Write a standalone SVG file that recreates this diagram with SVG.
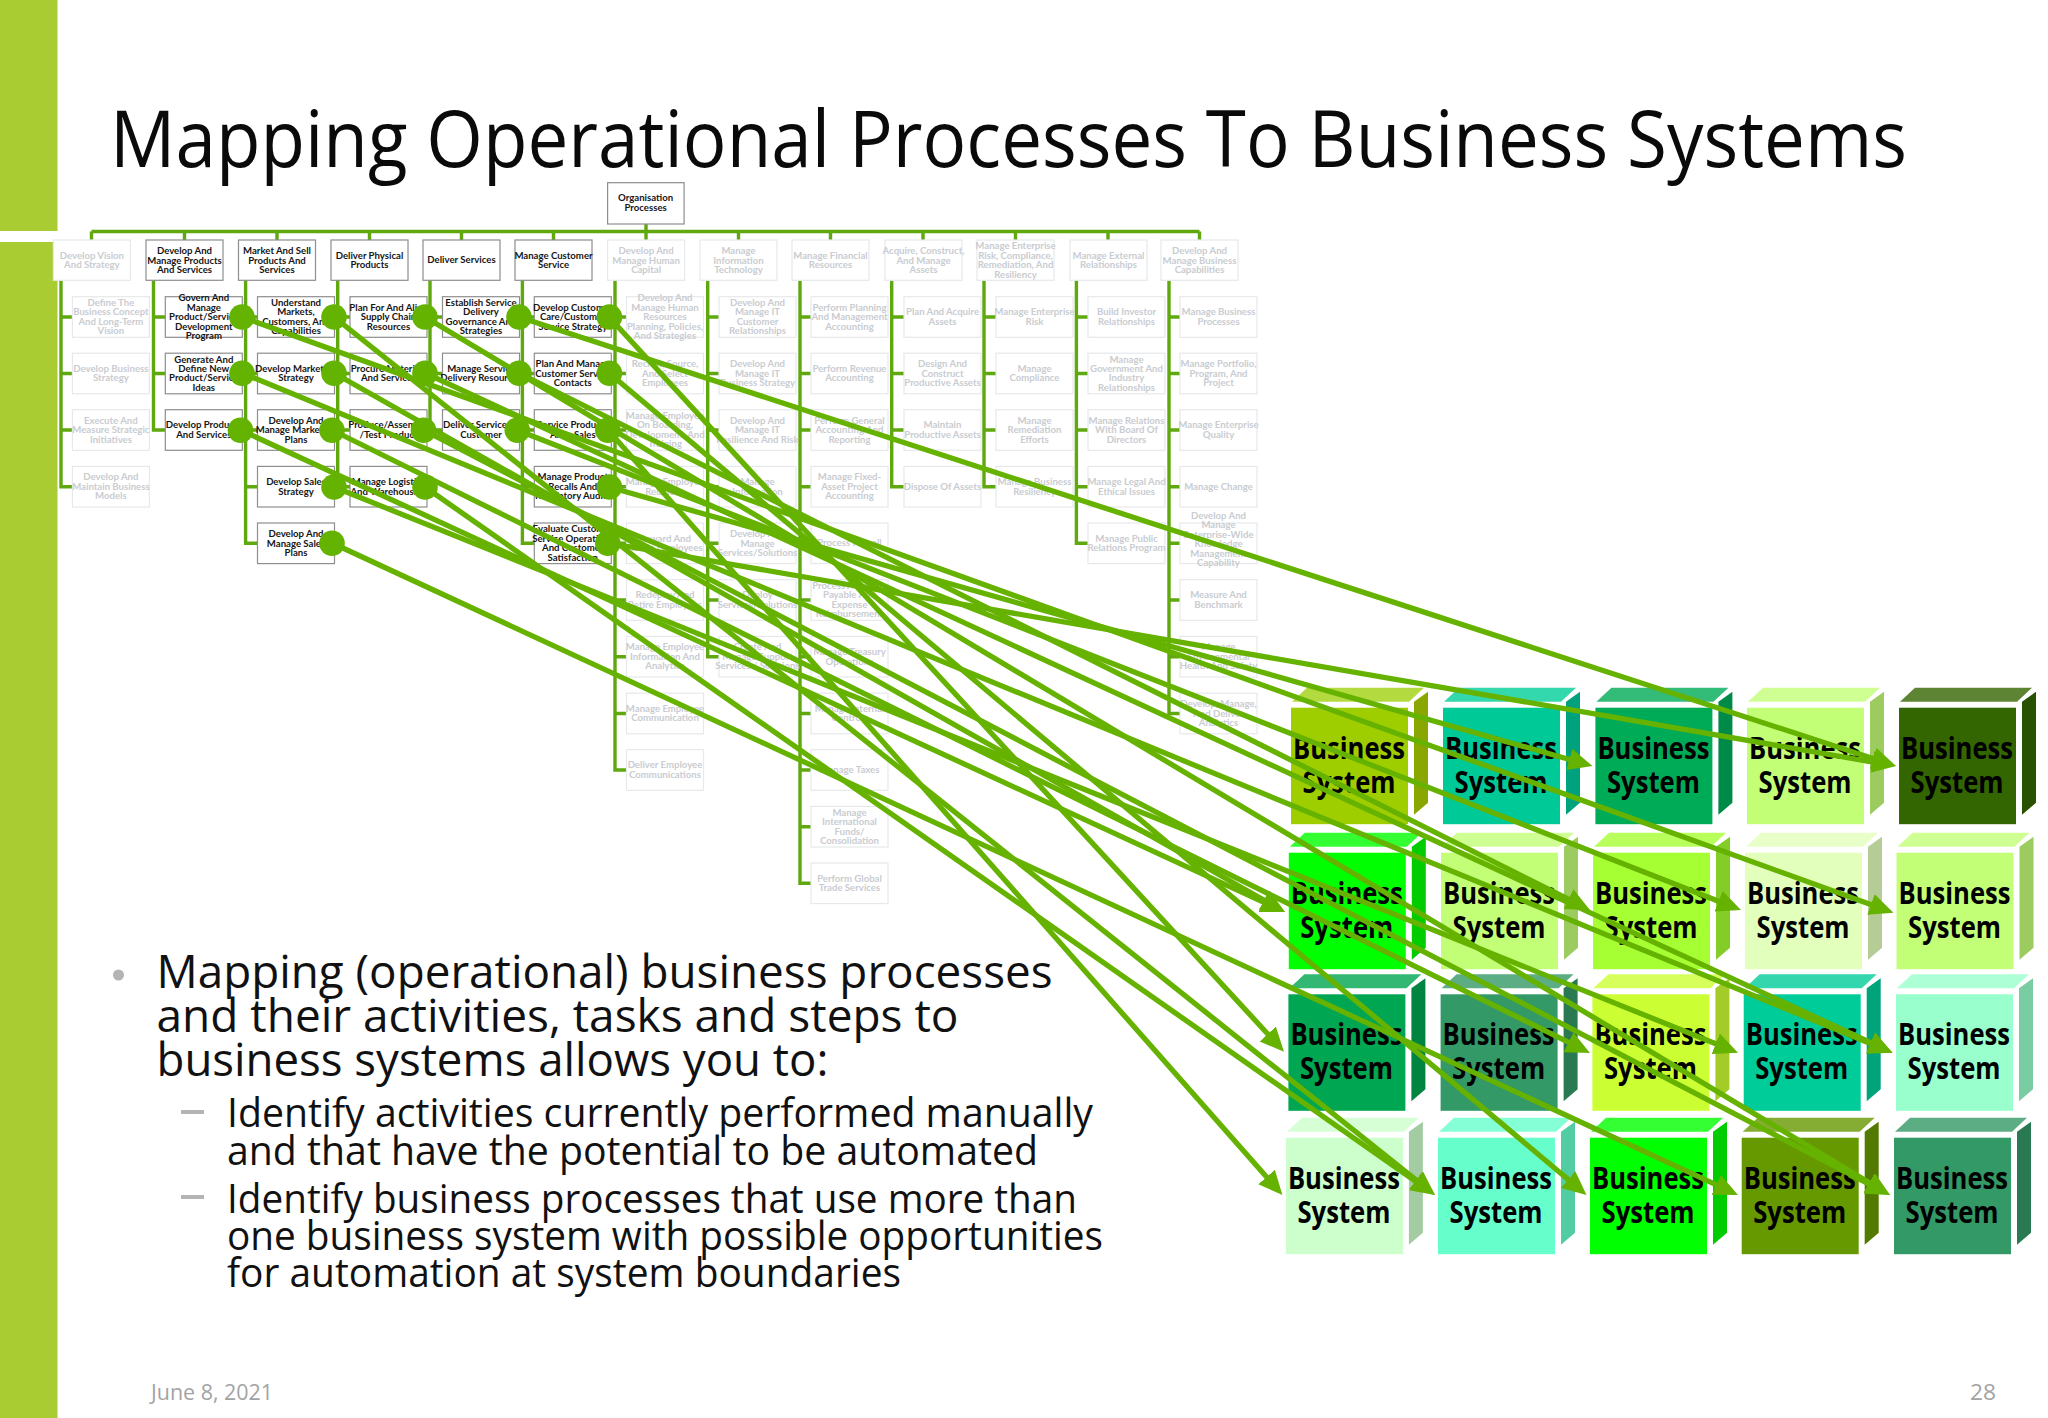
<svg xmlns="http://www.w3.org/2000/svg" width="2048" height="1418" viewBox="0 0 2048 1418">
<style>
.org{fill:none;stroke:#5FA80E;stroke-width:3.4}
.map{fill:none;stroke:#66B200;stroke-width:5.3;marker-end:url(#ah)}
.dot{fill:#63B300}
.a rect,.a use{fill:#fff;stroke:#8E8E8E;stroke-width:1.2}
.f rect,.f use{fill:#fff;stroke:#E6E8EB;stroke-width:1.2}
text{font-family:"Lato","Liberation Sans",sans-serif}
.a text,.f text{font-size:9.6px;font-weight:700;text-anchor:middle}
.a text{fill:#161616}
.f text{fill:#C9CCD1}
.bs text{font-family:"Open Sans","Liberation Sans",sans-serif;font-size:30px;font-weight:700;text-anchor:middle;fill:#000}
.body{font-family:"Open Sans","Liberation Sans",sans-serif;fill:#111}
</style>
<defs>
<marker id="ah" markerUnits="userSpaceOnUse" markerWidth="26" markerHeight="24" refX="2" refY="11" orient="auto"><path d="M0,0L24,11L0,22Z" fill="#66B200"/></marker>
<rect id="cb" width="77" height="40.6"/>
<rect id="lb" width="77" height="40.3"/>
<polygon id="pt" points="1,-6 16,-20 133,-20 118,-6"/>
<polygon id="ps" points="123,-6 137,-16 137,95 123,107"/>
<rect id="pf" width="117" height="116.5"/>
</defs>
<rect width="2048" height="1418" fill="#fff"/>
<g id="slide-bar" fill="#A9CC33"><rect width="57.5" height="231"/><rect y="242" width="57.5" height="1176"/></g>
<text id="title" x="110" y="167" font-size="78" textLength="1797" lengthAdjust="spacingAndGlyphs" style="font-family:'Open Sans','Liberation Sans',sans-serif" fill="#0a0a0a">Mapping Operational Processes To Business Systems</text>
<g id="org-connectors" class="org">
<path d="M646,224V240M91.5,231.5H1199.5M91.5,231.5V240M184.5,231.5V240M277,231.5V240M369.5,231.5V240M461.5,231.5V240M553.5,231.5V240M738.5,231.5V240M830.5,231.5V240M923,231.5V240M1015.5,231.5V240M1108,231.5V240M1199.5,231.5V240"/>
<path d="M61,280V486.7H72M61,317H72M61,373.5H72M61,430H72"/>
<path d="M153.5,280V430H165M153.5,317H165M153.5,373.5H165"/>
<path d="M245.6,280V543.3H257M245.6,317H257M245.6,373.5H257M245.6,430H257M245.6,486.7H257"/>
<path d="M337.7,280V486.7H350M337.7,317H350M337.7,373.5H350M337.7,430H350"/>
<path d="M430,280V430H442M430,317H442M430,373.5H442"/>
<path d="M522.4,280V543.3H534M522.4,317H534M522.4,373.5H534M522.4,430H534M522.4,486.7H534"/>
<path d="M615,280V770H626M615,317H626M615,373.5H626M615,430H626M615,486.7H626M615,543.3H626M615,600H626M615,656.7H626M615,713.5H626"/>
<path d="M707.7,280V656.7H719M707.7,317H719M707.7,373.5H719M707.7,430H719M707.7,486.7H719M707.7,543.3H719M707.7,600H719"/>
<path d="M800,280V883.3H811M800,317H811M800,373.5H811M800,430H811M800,486.7H811M800,543.3H811M800,600H811M800,656.7H811M800,713.5H811M800,770H811M800,826.7H811"/>
<path d="M891.7,280V486.7H904M891.7,317H904M891.7,373.5H904M891.7,430H904"/>
<path d="M984,280V486.7H996M984,317H996M984,373.5H996M984,430H996"/>
<path d="M1076.4,280V543.3H1088M1076.4,317H1088M1076.4,373.5H1088M1076.4,430H1088M1076.4,486.7H1088"/>
<path d="M1169,280V713.5H1180M1169,317H1180M1169,373.5H1180M1169,430H1180M1169,486.7H1180M1169,543.3H1180M1169,600H1180M1169,656.7H1180"/>
</g>
<g id="org-root" class="a" transform="translate(607.6,182.7)"><rect width="76.5" height="41.3"/><text x="38" y="18.8">Organisation<tspan x="38" dy="9.4">Processes</tspan></text></g>
<g id="l1-0" class="f" transform="translate(53.4,240)"><use href="#lb"/><text x="38.5" y="18.8">Develop Vision<tspan x="38.5" dy="9.4">And Strategy</tspan></text></g>
<g id="l1-1" class="a" transform="translate(146,240)"><use href="#lb"/><text x="38.5" y="14.1">Develop And<tspan x="38.5" dy="9.4">Manage Products</tspan><tspan x="38.5" dy="9.4">And Services</tspan></text></g>
<g id="l1-2" class="a" transform="translate(238.5,240)"><use href="#lb"/><text x="38.5" y="14.1">Market And Sell<tspan x="38.5" dy="9.4">Products And</tspan><tspan x="38.5" dy="9.4">Services</tspan></text></g>
<g id="l1-3" class="a" transform="translate(331,240)"><use href="#lb"/><text x="38.5" y="18.8">Deliver Physical<tspan x="38.5" dy="9.4">Products</tspan></text></g>
<g id="l1-4" class="a" transform="translate(423,240)"><use href="#lb"/><text x="38.5" y="23.3">Deliver Services</text></g>
<g id="l1-5" class="a" transform="translate(515,240)"><use href="#lb"/><text x="38.5" y="18.8">Manage Customer<tspan x="38.5" dy="9.4">Service</tspan></text></g>
<g id="l1-6" class="f" transform="translate(607.6,240)"><use href="#lb"/><text x="38.5" y="14.1">Develop And<tspan x="38.5" dy="9.4">Manage Human</tspan><tspan x="38.5" dy="9.4">Capital</tspan></text></g>
<g id="l1-7" class="f" transform="translate(700,240)"><use href="#lb"/><text x="38.5" y="14.1">Manage<tspan x="38.5" dy="9.4">Information</tspan><tspan x="38.5" dy="9.4">Technology</tspan></text></g>
<g id="l1-8" class="f" transform="translate(792,240)"><use href="#lb"/><text x="38.5" y="18.8">Manage Financial<tspan x="38.5" dy="9.4">Resources</tspan></text></g>
<g id="l1-9" class="f" transform="translate(885,240)"><use href="#lb"/><text x="38.5" y="14.1">Acquire, Construct,<tspan x="38.5" dy="9.4">And Manage</tspan><tspan x="38.5" dy="9.4">Assets</tspan></text></g>
<g id="l1-10" class="f" transform="translate(977,240)"><use href="#lb"/><text x="38.5" y="9.4">Manage Enterprise<tspan x="38.5" dy="9.4">Risk, Compliance,</tspan><tspan x="38.5" dy="9.4">Remediation, And</tspan><tspan x="38.5" dy="9.4">Resiliency</tspan></text></g>
<g id="l1-11" class="f" transform="translate(1070,240)"><use href="#lb"/><text x="38.5" y="18.8">Manage External<tspan x="38.5" dy="9.4">Relationships</tspan></text></g>
<g id="l1-12" class="f" transform="translate(1161,240)"><use href="#lb"/><text x="38.5" y="14.1">Develop And<tspan x="38.5" dy="9.4">Manage Business</tspan><tspan x="38.5" dy="9.4">Capabilities</tspan></text></g>

<g id="c0-1" class="f" transform="translate(72.4,296.7)"><use href="#cb"/><text x="38.5" y="9.4">Define The<tspan x="38.5" dy="9.4">Business Concept</tspan><tspan x="38.5" dy="9.4">And Long-Term</tspan><tspan x="38.5" dy="9.4">Vision</tspan></text></g>
<g id="c0-2" class="f" transform="translate(72.4,353.2)"><use href="#cb"/><text x="38.5" y="18.8">Develop Business<tspan x="38.5" dy="9.4">Strategy</tspan></text></g>
<g id="c0-3" class="f" transform="translate(72.4,409.7)"><use href="#cb"/><text x="38.5" y="14.1">Execute And<tspan x="38.5" dy="9.4">Measure Strategic</tspan><tspan x="38.5" dy="9.4">Initiatives</tspan></text></g>
<g id="c0-4" class="f" transform="translate(72.4,466.4)"><use href="#cb"/><text x="38.5" y="14.1">Develop And<tspan x="38.5" dy="9.4">Maintain Business</tspan><tspan x="38.5" dy="9.4">Models</tspan></text></g>

<g id="c1-1" class="a" transform="translate(165.3,296.7)"><use href="#cb"/><text x="38.5" y="4.7">Govern And<tspan x="38.5" dy="9.4">Manage</tspan><tspan x="38.5" dy="9.4">Product/Service</tspan><tspan x="38.5" dy="9.4">Development</tspan><tspan x="38.5" dy="9.4">Program</tspan></text></g>
<g id="c1-2" class="a" transform="translate(165.3,353.2)"><use href="#cb"/><text x="38.5" y="9.4">Generate And<tspan x="38.5" dy="9.4">Define New</tspan><tspan x="38.5" dy="9.4">Product/Service</tspan><tspan x="38.5" dy="9.4">Ideas</tspan></text></g>
<g id="c1-3" class="a" transform="translate(165.3,409.7)"><use href="#cb"/><text x="38.5" y="18.8">Develop Products<tspan x="38.5" dy="9.4">And Services</tspan></text></g>

<g id="c2-1" class="a" transform="translate(257.5,296.7)"><use href="#cb"/><text x="38.5" y="9.4">Understand<tspan x="38.5" dy="9.4">Markets,</tspan><tspan x="38.5" dy="9.4">Customers, And</tspan><tspan x="38.5" dy="9.4">Capabilities</tspan></text></g>
<g id="c2-2" class="a" transform="translate(257.5,353.2)"><use href="#cb"/><text x="38.5" y="18.8">Develop Marketing<tspan x="38.5" dy="9.4">Strategy</tspan></text></g>
<g id="c2-3" class="a" transform="translate(257.5,409.7)"><use href="#cb"/><text x="38.5" y="14.1">Develop And<tspan x="38.5" dy="9.4">Manage Marketing</tspan><tspan x="38.5" dy="9.4">Plans</tspan></text></g>
<g id="c2-4" class="a" transform="translate(257.5,466.4)"><use href="#cb"/><text x="38.5" y="18.8">Develop Sales<tspan x="38.5" dy="9.4">Strategy</tspan></text></g>
<g id="c2-5" class="a" transform="translate(257.5,523)"><use href="#cb"/><text x="38.5" y="14.1">Develop And<tspan x="38.5" dy="9.4">Manage Sales</tspan><tspan x="38.5" dy="9.4">Plans</tspan></text></g>

<g id="c3-1" class="a" transform="translate(350,296.7)"><use href="#cb"/><text x="38.5" y="14.1">Plan For And Align<tspan x="38.5" dy="9.4">Supply Chain</tspan><tspan x="38.5" dy="9.4">Resources</tspan></text></g>
<g id="c3-2" class="a" transform="translate(350,353.2)"><use href="#cb"/><text x="38.5" y="18.8">Procure Materials<tspan x="38.5" dy="9.4">And Services</tspan></text></g>
<g id="c3-3" class="a" transform="translate(350,409.7)"><use href="#cb"/><text x="38.5" y="18.8">Produce/Assemble<tspan x="38.5" dy="9.4">/Test Product</tspan></text></g>
<g id="c3-4" class="a" transform="translate(350,466.4)"><use href="#cb"/><text x="38.5" y="18.8">Manage Logistics<tspan x="38.5" dy="9.4">And Warehousing</tspan></text></g>

<g id="c4-1" class="a" transform="translate(442.5,296.7)"><use href="#cb"/><text x="38.5" y="9.4">Establish Service<tspan x="38.5" dy="9.4">Delivery</tspan><tspan x="38.5" dy="9.4">Governance And</tspan><tspan x="38.5" dy="9.4">Strategies</tspan></text></g>
<g id="c4-2" class="a" transform="translate(442.5,353.2)"><use href="#cb"/><text x="38.5" y="18.8">Manage Service<tspan x="38.5" dy="9.4">Delivery Resources</tspan></text></g>
<g id="c4-3" class="a" transform="translate(442.5,409.7)"><use href="#cb"/><text x="38.5" y="18.8">Deliver Service To<tspan x="38.5" dy="9.4">Customer</tspan></text></g>

<g id="c5-1" class="a" transform="translate(534.3,296.7)"><use href="#cb"/><text x="38.5" y="14.1">Develop Customer<tspan x="38.5" dy="9.4">Care/Customer</tspan><tspan x="38.5" dy="9.4">Service Strategy</tspan></text></g>
<g id="c5-2" class="a" transform="translate(534.3,353.2)"><use href="#cb"/><text x="38.5" y="14.1">Plan And Manage<tspan x="38.5" dy="9.4">Customer Service</tspan><tspan x="38.5" dy="9.4">Contacts</tspan></text></g>
<g id="c5-3" class="a" transform="translate(534.3,409.7)"><use href="#cb"/><text x="38.5" y="18.8">Service Products<tspan x="38.5" dy="9.4">After Sales</tspan></text></g>
<g id="c5-4" class="a" transform="translate(534.3,466.4)"><use href="#cb"/><text x="38.5" y="14.1">Manage Product<tspan x="38.5" dy="9.4">Recalls And</tspan><tspan x="38.5" dy="9.4">Regulatory Audits</tspan></text></g>
<g id="c5-5" class="a" transform="translate(534.3,523)"><use href="#cb"/><text x="38.5" y="9.4">Evaluate Customer<tspan x="38.5" dy="9.4">Service Operations</tspan><tspan x="38.5" dy="9.4">And Customer</tspan><tspan x="38.5" dy="9.4">Satisfaction</tspan></text></g>

<g id="c6-1" class="f" transform="translate(626.5,296.7)"><use href="#cb"/><text x="38.5" y="4.7">Develop And<tspan x="38.5" dy="9.4">Manage Human</tspan><tspan x="38.5" dy="9.4">Resources</tspan><tspan x="38.5" dy="9.4">Planning, Policies,</tspan><tspan x="38.5" dy="9.4">And Strategies</tspan></text></g>
<g id="c6-2" class="f" transform="translate(626.5,353.2)"><use href="#cb"/><text x="38.5" y="14.1">Recruit, Source,<tspan x="38.5" dy="9.4">And Select</tspan><tspan x="38.5" dy="9.4">Employees</tspan></text></g>
<g id="c6-3" class="f" transform="translate(626.5,409.7)"><use href="#cb"/><text x="38.5" y="9.4">Manage Employee<tspan x="38.5" dy="9.4">On Boarding,</tspan><tspan x="38.5" dy="9.4">Development, And</tspan><tspan x="38.5" dy="9.4">Training</tspan></text></g>
<g id="c6-4" class="f" transform="translate(626.5,466.4)"><use href="#cb"/><text x="38.5" y="18.8">Manage Employee<tspan x="38.5" dy="9.4">Relations</tspan></text></g>
<g id="c6-5" class="f" transform="translate(626.5,523)"><use href="#cb"/><text x="38.5" y="18.8">Reward And<tspan x="38.5" dy="9.4">Retain Employees</tspan></text></g>
<g id="c6-6" class="f" transform="translate(626.5,579.7)"><use href="#cb"/><text x="38.5" y="18.8">Redeploy And<tspan x="38.5" dy="9.4">Retire Employees</tspan></text></g>
<g id="c6-7" class="f" transform="translate(626.5,636.4)"><use href="#cb"/><text x="38.5" y="14.1">Manage Employee<tspan x="38.5" dy="9.4">Information And</tspan><tspan x="38.5" dy="9.4">Analytics</tspan></text></g>
<g id="c6-8" class="f" transform="translate(626.5,693.2)"><use href="#cb"/><text x="38.5" y="18.8">Manage Employee<tspan x="38.5" dy="9.4">Communication</tspan></text></g>
<g id="c6-9" class="f" transform="translate(626.5,749.7)"><use href="#cb"/><text x="38.5" y="18.8">Deliver Employee<tspan x="38.5" dy="9.4">Communications</tspan></text></g>

<g id="c7-1" class="f" transform="translate(719,296.7)"><use href="#cb"/><text x="38.5" y="9.4">Develop And<tspan x="38.5" dy="9.4">Manage IT</tspan><tspan x="38.5" dy="9.4">Customer</tspan><tspan x="38.5" dy="9.4">Relationships</tspan></text></g>
<g id="c7-2" class="f" transform="translate(719,353.2)"><use href="#cb"/><text x="38.5" y="14.1">Develop And<tspan x="38.5" dy="9.4">Manage IT</tspan><tspan x="38.5" dy="9.4">Business Strategy</tspan></text></g>
<g id="c7-3" class="f" transform="translate(719,409.7)"><use href="#cb"/><text x="38.5" y="14.1">Develop And<tspan x="38.5" dy="9.4">Manage IT</tspan><tspan x="38.5" dy="9.4">Resilience And Risk</tspan></text></g>
<g id="c7-4" class="f" transform="translate(719,466.4)"><use href="#cb"/><text x="38.5" y="18.8">Manage<tspan x="38.5" dy="9.4">Information</tspan></text></g>
<g id="c7-5" class="f" transform="translate(719,523)"><use href="#cb"/><text x="38.5" y="14.1">Develop And<tspan x="38.5" dy="9.4">Manage</tspan><tspan x="38.5" dy="9.4">Services/Solutions</tspan></text></g>
<g id="c7-6" class="f" transform="translate(719,579.7)"><use href="#cb"/><text x="38.5" y="18.8">Deploy<tspan x="38.5" dy="9.4">Services/Solutions</tspan></text></g>
<g id="c7-7" class="f" transform="translate(719,636.4)"><use href="#cb"/><text x="38.5" y="14.1">Create And<tspan x="38.5" dy="9.4">Manage Support</tspan><tspan x="38.5" dy="9.4">Services / Solutions</tspan></text></g>

<g id="c8-1" class="f" transform="translate(811,296.7)"><use href="#cb"/><text x="38.5" y="14.1">Perform Planning<tspan x="38.5" dy="9.4">And Management</tspan><tspan x="38.5" dy="9.4">Accounting</tspan></text></g>
<g id="c8-2" class="f" transform="translate(811,353.2)"><use href="#cb"/><text x="38.5" y="18.8">Perform Revenue<tspan x="38.5" dy="9.4">Accounting</tspan></text></g>
<g id="c8-3" class="f" transform="translate(811,409.7)"><use href="#cb"/><text x="38.5" y="14.1">Perform General<tspan x="38.5" dy="9.4">Accounting And</tspan><tspan x="38.5" dy="9.4">Reporting</tspan></text></g>
<g id="c8-4" class="f" transform="translate(811,466.4)"><use href="#cb"/><text x="38.5" y="14.1">Manage Fixed-<tspan x="38.5" dy="9.4">Asset Project</tspan><tspan x="38.5" dy="9.4">Accounting</tspan></text></g>
<g id="c8-5" class="f" transform="translate(811,523)"><use href="#cb"/><text x="38.5" y="23.3">Process Payroll</text></g>
<g id="c8-6" class="f" transform="translate(811,579.7)"><use href="#cb"/><text x="38.5" y="9.4">Process Accounts<tspan x="38.5" dy="9.4">Payable And</tspan><tspan x="38.5" dy="9.4">Expense</tspan><tspan x="38.5" dy="9.4">Reimbursement</tspan></text></g>
<g id="c8-7" class="f" transform="translate(811,636.4)"><use href="#cb"/><text x="38.5" y="18.8">Manage Treasury<tspan x="38.5" dy="9.4">Operations</tspan></text></g>
<g id="c8-8" class="f" transform="translate(811,693.2)"><use href="#cb"/><text x="38.5" y="18.8">Manage Internal<tspan x="38.5" dy="9.4">Controls</tspan></text></g>
<g id="c8-9" class="f" transform="translate(811,749.7)"><use href="#cb"/><text x="38.5" y="23.3">Manage Taxes</text></g>
<g id="c8-10" class="f" transform="translate(811,806.4)"><use href="#cb"/><text x="38.5" y="9.4">Manage<tspan x="38.5" dy="9.4">International</tspan><tspan x="38.5" dy="9.4">Funds/</tspan><tspan x="38.5" dy="9.4">Consolidation</tspan></text></g>
<g id="c8-11" class="f" transform="translate(811,863)"><use href="#cb"/><text x="38.5" y="18.8">Perform Global<tspan x="38.5" dy="9.4">Trade Services</tspan></text></g>

<g id="c9-1" class="f" transform="translate(904,296.7)"><use href="#cb"/><text x="38.5" y="18.8">Plan And Acquire<tspan x="38.5" dy="9.4">Assets</tspan></text></g>
<g id="c9-2" class="f" transform="translate(904,353.2)"><use href="#cb"/><text x="38.5" y="14.1">Design And<tspan x="38.5" dy="9.4">Construct</tspan><tspan x="38.5" dy="9.4">Productive Assets</tspan></text></g>
<g id="c9-3" class="f" transform="translate(904,409.7)"><use href="#cb"/><text x="38.5" y="18.8">Maintain<tspan x="38.5" dy="9.4">Productive Assets</tspan></text></g>
<g id="c9-4" class="f" transform="translate(904,466.4)"><use href="#cb"/><text x="38.5" y="23.3">Dispose Of Assets</text></g>

<g id="c10-1" class="f" transform="translate(996,296.7)"><use href="#cb"/><text x="38.5" y="18.8">Manage Enterprise<tspan x="38.5" dy="9.4">Risk</tspan></text></g>
<g id="c10-2" class="f" transform="translate(996,353.2)"><use href="#cb"/><text x="38.5" y="18.8">Manage<tspan x="38.5" dy="9.4">Compliance</tspan></text></g>
<g id="c10-3" class="f" transform="translate(996,409.7)"><use href="#cb"/><text x="38.5" y="14.1">Manage<tspan x="38.5" dy="9.4">Remediation</tspan><tspan x="38.5" dy="9.4">Efforts</tspan></text></g>
<g id="c10-4" class="f" transform="translate(996,466.4)"><use href="#cb"/><text x="38.5" y="18.8">Manage Business<tspan x="38.5" dy="9.4">Resiliency</tspan></text></g>

<g id="c11-1" class="f" transform="translate(1088,296.7)"><use href="#cb"/><text x="38.5" y="18.8">Build Investor<tspan x="38.5" dy="9.4">Relationships</tspan></text></g>
<g id="c11-2" class="f" transform="translate(1088,353.2)"><use href="#cb"/><text x="38.5" y="9.4">Manage<tspan x="38.5" dy="9.4">Government And</tspan><tspan x="38.5" dy="9.4">Industry</tspan><tspan x="38.5" dy="9.4">Relationships</tspan></text></g>
<g id="c11-3" class="f" transform="translate(1088,409.7)"><use href="#cb"/><text x="38.5" y="14.1">Manage Relations<tspan x="38.5" dy="9.4">With Board Of</tspan><tspan x="38.5" dy="9.4">Directors</tspan></text></g>
<g id="c11-4" class="f" transform="translate(1088,466.4)"><use href="#cb"/><text x="38.5" y="18.8">Manage Legal And<tspan x="38.5" dy="9.4">Ethical Issues</tspan></text></g>
<g id="c11-5" class="f" transform="translate(1088,523)"><use href="#cb"/><text x="38.5" y="18.8">Manage Public<tspan x="38.5" dy="9.4">Relations Program</tspan></text></g>

<g id="c12-1" class="f" transform="translate(1180,296.7)"><use href="#cb"/><text x="38.5" y="18.8">Manage Business<tspan x="38.5" dy="9.4">Processes</tspan></text></g>
<g id="c12-2" class="f" transform="translate(1180,353.2)"><use href="#cb"/><text x="38.5" y="14.1">Manage Portfolio,<tspan x="38.5" dy="9.4">Program, And</tspan><tspan x="38.5" dy="9.4">Project</tspan></text></g>
<g id="c12-3" class="f" transform="translate(1180,409.7)"><use href="#cb"/><text x="38.5" y="18.8">Manage Enterprise<tspan x="38.5" dy="9.4">Quality</tspan></text></g>
<g id="c12-4" class="f" transform="translate(1180,466.4)"><use href="#cb"/><text x="38.5" y="23.3">Manage Change</text></g>
<g id="c12-5" class="f" transform="translate(1180,523)"><use href="#cb"/><text x="38.5" y="-4">Develop And<tspan x="38.5" dy="9.4">Manage</tspan><tspan x="38.5" dy="9.4">Enterprise-Wide</tspan><tspan x="38.5" dy="9.4">Knowledge</tspan><tspan x="38.5" dy="9.4">Management</tspan><tspan x="38.5" dy="9.4">Capability</tspan></text></g>
<g id="c12-6" class="f" transform="translate(1180,579.7)"><use href="#cb"/><text x="38.5" y="18.8">Measure And<tspan x="38.5" dy="9.4">Benchmark</tspan></text></g>
<g id="c12-7" class="f" transform="translate(1180,636.4)"><use href="#cb"/><text x="38.5" y="14.1">Manage<tspan x="38.5" dy="9.4">Environmental</tspan><tspan x="38.5" dy="9.4">Health And Safety</tspan></text></g>
<g id="c12-8" class="f" transform="translate(1180,693.2)"><use href="#cb"/><text x="38.5" y="14.1">Develop, Manage,<tspan x="38.5" dy="9.4">And Deliver</tspan><tspan x="38.5" dy="9.4">Analytics</tspan></text></g>

<g id="bs-1-1" class="bs" transform="translate(1291,707.7)"><use href="#pt" fill="#B3DA3F"/><use href="#ps" fill="#8AA600"/><use href="#pf" fill="#9FCE00"/><text x="58" y="51" textLength="112" lengthAdjust="spacingAndGlyphs">Business</text><text x="58" y="85" textLength="93" lengthAdjust="spacingAndGlyphs">System</text></g>
<g id="bs-1-2" class="bs" transform="translate(1443,707.7)"><use href="#pt" fill="#33D8AC"/><use href="#ps" fill="#00A27D"/><use href="#pf" fill="#00C998"/><text x="58" y="51" textLength="112" lengthAdjust="spacingAndGlyphs">Business</text><text x="58" y="85" textLength="93" lengthAdjust="spacingAndGlyphs">System</text></g>
<g id="bs-1-3" class="bs" transform="translate(1595.4,707.7)"><use href="#pt" fill="#33BB78"/><use href="#ps" fill="#008A47"/><use href="#pf" fill="#00AB57"/><text x="58" y="51" textLength="112" lengthAdjust="spacingAndGlyphs">Business</text><text x="58" y="85" textLength="93" lengthAdjust="spacingAndGlyphs">System</text></g>
<g id="bs-1-4" class="bs" transform="translate(1747,707.7)"><use href="#pt" fill="#CFFF92"/><use href="#ps" fill="#9CCC60"/><use href="#pf" fill="#C2FF77"/><text x="58" y="51" textLength="112" lengthAdjust="spacingAndGlyphs">Business</text><text x="58" y="85" textLength="93" lengthAdjust="spacingAndGlyphs">System</text></g>
<g id="bs-1-5" class="bs" transform="translate(1899,707.7)"><use href="#pt" fill="#5C8433"/><use href="#ps" fill="#295200"/><use href="#pf" fill="#336600"/><text x="58" y="51" textLength="112" lengthAdjust="spacingAndGlyphs">Business</text><text x="58" y="85" textLength="93" lengthAdjust="spacingAndGlyphs">System</text></g>

<g id="bs-2-1" class="bs" transform="translate(1288.8,852.7)"><use href="#pt" fill="#33FF33"/><use href="#ps" fill="#00CC00"/><use href="#pf" fill="#00FF00"/><text x="58" y="51" textLength="112" lengthAdjust="spacingAndGlyphs">Business</text><text x="58" y="85" textLength="93" lengthAdjust="spacingAndGlyphs">System</text></g>
<g id="bs-2-2" class="bs" transform="translate(1441,852.7)"><use href="#pt" fill="#CFFF92"/><use href="#ps" fill="#9CCC60"/><use href="#pf" fill="#C2FF77"/><text x="58" y="51" textLength="112" lengthAdjust="spacingAndGlyphs">Business</text><text x="58" y="85" textLength="93" lengthAdjust="spacingAndGlyphs">System</text></g>
<g id="bs-2-3" class="bs" transform="translate(1593,852.7)"><use href="#pt" fill="#B8FF5C"/><use href="#ps" fill="#84CC28"/><use href="#pf" fill="#A6FF33"/><text x="58" y="51" textLength="112" lengthAdjust="spacingAndGlyphs">Business</text><text x="58" y="85" textLength="93" lengthAdjust="spacingAndGlyphs">System</text></g>
<g id="bs-2-4" class="bs" transform="translate(1745,852.7)"><use href="#pt" fill="#E8FFC9"/><use href="#ps" fill="#B5CC96"/><use href="#pf" fill="#E2FFBC"/><text x="58" y="51" textLength="112" lengthAdjust="spacingAndGlyphs">Business</text><text x="58" y="85" textLength="93" lengthAdjust="spacingAndGlyphs">System</text></g>
<g id="bs-2-5" class="bs" transform="translate(1896.5,852.7)"><use href="#pt" fill="#CFFF92"/><use href="#ps" fill="#9CCC60"/><use href="#pf" fill="#C2FF77"/><text x="58" y="51" textLength="112" lengthAdjust="spacingAndGlyphs">Business</text><text x="58" y="85" textLength="93" lengthAdjust="spacingAndGlyphs">System</text></g>

<g id="bs-3-1" class="bs" transform="translate(1288.4,994.3)"><use href="#pt" fill="#33B874"/><use href="#ps" fill="#008540"/><use href="#pf" fill="#00A651"/><text x="58" y="51" textLength="112" lengthAdjust="spacingAndGlyphs">Business</text><text x="58" y="85" textLength="93" lengthAdjust="spacingAndGlyphs">System</text></g>
<g id="bs-3-2" class="bs" transform="translate(1440.6,994.3)"><use href="#pt" fill="#5CAD84"/><use href="#ps" fill="#297A52"/><use href="#pf" fill="#339966"/><text x="58" y="51" textLength="112" lengthAdjust="spacingAndGlyphs">Business</text><text x="58" y="85" textLength="93" lengthAdjust="spacingAndGlyphs">System</text></g>
<g id="bs-3-3" class="bs" transform="translate(1592.4,994.3)"><use href="#pt" fill="#D6FF5C"/><use href="#ps" fill="#A3CC28"/><use href="#pf" fill="#CCFF33"/><text x="58" y="51" textLength="112" lengthAdjust="spacingAndGlyphs">Business</text><text x="58" y="85" textLength="93" lengthAdjust="spacingAndGlyphs">System</text></g>
<g id="bs-3-4" class="bs" transform="translate(1743.7,994.3)"><use href="#pt" fill="#33D6AD"/><use href="#ps" fill="#00A37A"/><use href="#pf" fill="#00CC99"/><text x="58" y="51" textLength="112" lengthAdjust="spacingAndGlyphs">Business</text><text x="58" y="85" textLength="93" lengthAdjust="spacingAndGlyphs">System</text></g>
<g id="bs-3-5" class="bs" transform="translate(1896,994.3)"><use href="#pt" fill="#ADFFD6"/><use href="#ps" fill="#7ACCA3"/><use href="#pf" fill="#99FFCC"/><text x="58" y="51" textLength="112" lengthAdjust="spacingAndGlyphs">Business</text><text x="58" y="85" textLength="93" lengthAdjust="spacingAndGlyphs">System</text></g>

<g id="bs-4-1" class="bs" transform="translate(1285.9,1137.7)"><use href="#pt" fill="#D6FFD6"/><use href="#ps" fill="#A3CCA3"/><use href="#pf" fill="#CCFFCC"/><text x="58" y="51" textLength="112" lengthAdjust="spacingAndGlyphs">Business</text><text x="58" y="85" textLength="93" lengthAdjust="spacingAndGlyphs">System</text></g>
<g id="bs-4-2" class="bs" transform="translate(1438,1137.7)"><use href="#pt" fill="#85FFD6"/><use href="#ps" fill="#52CCA3"/><use href="#pf" fill="#66FFCC"/><text x="58" y="51" textLength="112" lengthAdjust="spacingAndGlyphs">Business</text><text x="58" y="85" textLength="93" lengthAdjust="spacingAndGlyphs">System</text></g>
<g id="bs-4-3" class="bs" transform="translate(1590,1137.7)"><use href="#pt" fill="#33FF33"/><use href="#ps" fill="#00CC00"/><use href="#pf" fill="#00FF00"/><text x="58" y="51" textLength="112" lengthAdjust="spacingAndGlyphs">Business</text><text x="58" y="85" textLength="93" lengthAdjust="spacingAndGlyphs">System</text></g>
<g id="bs-4-4" class="bs" transform="translate(1741.7,1137.7)"><use href="#pt" fill="#85AD33"/><use href="#ps" fill="#527A00"/><use href="#pf" fill="#669900"/><text x="58" y="51" textLength="112" lengthAdjust="spacingAndGlyphs">Business</text><text x="58" y="85" textLength="93" lengthAdjust="spacingAndGlyphs">System</text></g>
<g id="bs-4-5" class="bs" transform="translate(1894,1137.7)"><use href="#pt" fill="#5CAD84"/><use href="#ps" fill="#297A52"/><use href="#pf" fill="#339966"/><text x="58" y="51" textLength="112" lengthAdjust="spacingAndGlyphs">Business</text><text x="58" y="85" textLength="93" lengthAdjust="spacingAndGlyphs">System</text></g>

<g id="mapping-connectors">
<path class="map" d="M242,317L1872.8,905.2"/>
<path class="map" d="M242,373L1872.2,1044.3"/>
<path class="map" d="M240.5,430L1265,902.8"/>
<path class="map" d="M334,317L1417.8,1181.3"/>
<path class="map" d="M334,373L1265.9,901.2"/>
<path class="map" d="M332,430L1570.3,1043.2"/>
<path class="map" d="M334,487L1717.6,1044.5"/>
<path class="map" d="M332,543L1718,1185.7"/>
<path class="map" d="M425,317L1871.1,1183.7"/>
<path class="map" d="M425,373L1872.5,1043.5"/>
<path class="map" d="M423.5,430L1870.5,1184.8"/>
<path class="map" d="M425,487L1417,1182.4"/>
<path class="map" d="M519,317L1875.1,759.2"/>
<path class="map" d="M519,373L1570.3,900.1"/>
<path class="map" d="M517,430L1720.5,902"/>
<path class="map" d="M609,317L1269.1,1035.5"/>
<path class="map" d="M609,373L1569.7,1180.8"/>
<path class="map" d="M608,430L1267.9,1178.5"/>
<path class="map" d="M609,487L1571.3,760"/>
<path class="map" d="M608,543L1874.3,762.3"/>
<g class="dot">
<circle cx="242" cy="317" r="12.8"/><circle cx="242" cy="373.3" r="12.8"/><circle cx="240.5" cy="430.3" r="12.8"/>
<circle cx="334" cy="317" r="12.8"/><circle cx="334" cy="373.3" r="12.8"/><circle cx="332" cy="430.3" r="12.8"/><circle cx="334" cy="487" r="12.8"/><circle cx="332" cy="543.3" r="12.8"/>
<circle cx="425" cy="317" r="12.8"/><circle cx="425" cy="373.3" r="12.8"/><circle cx="423.5" cy="430.3" r="12.8"/><circle cx="425" cy="487" r="12.8"/>
<circle cx="519" cy="317" r="12.8"/><circle cx="519" cy="373.3" r="12.8"/><circle cx="517.3" cy="430.3" r="12.8"/>
<circle cx="609.4" cy="317" r="12.8"/><circle cx="609.4" cy="373.3" r="12.8"/><circle cx="607.8" cy="430.3" r="12.8"/><circle cx="609.4" cy="487" r="12.8"/><circle cx="607.8" cy="543.3" r="12.8"/>
</g>
</g>
<g id="bullets" class="body">
<circle cx="118.5" cy="975" r="5.5" fill="#B4B4B4"/>
<rect x="181" y="1110" width="23" height="4" fill="#B4B4B4"/>
<rect x="181" y="1195" width="23" height="4" fill="#B4B4B4"/>
<text class="body" x="156.5" y="988" font-size="45.5" textLength="896" lengthAdjust="spacingAndGlyphs">Mapping (operational) business processes</text>
<text class="body" x="156.5" y="1031.5" font-size="45.5" textLength="802" lengthAdjust="spacingAndGlyphs">and their activities, tasks and steps to</text>
<text class="body" x="156.5" y="1075.5" font-size="45.5" textLength="672" lengthAdjust="spacingAndGlyphs">business systems allows you to:</text>
<text class="body" x="227" y="1127" font-size="40" textLength="866" lengthAdjust="spacingAndGlyphs">Identify activities currently performed manually</text>
<text class="body" x="227" y="1164.5" font-size="40" textLength="811" lengthAdjust="spacingAndGlyphs">and that have the potential to be automated</text>
<text class="body" x="227" y="1213" font-size="40" textLength="850" lengthAdjust="spacingAndGlyphs">Identify business processes that use more than</text>
<text class="body" x="227" y="1250" font-size="40" textLength="876" lengthAdjust="spacingAndGlyphs">one business system with possible opportunities</text>
<text class="body" x="227" y="1287" font-size="40" textLength="674" lengthAdjust="spacingAndGlyphs">for automation at system boundaries</text>
</g>
<text id="footer-date" x="151" y="1400" font-size="21" fill="#A3A3A3" style="font-family:'Open Sans','Liberation Sans',sans-serif" textLength="122" lengthAdjust="spacingAndGlyphs">June 8, 2021</text>
<text id="footer-page" x="1970" y="1400" font-size="21" fill="#A3A3A3" style="font-family:'Open Sans','Liberation Sans',sans-serif" textLength="26" lengthAdjust="spacingAndGlyphs">28</text>
</svg>
